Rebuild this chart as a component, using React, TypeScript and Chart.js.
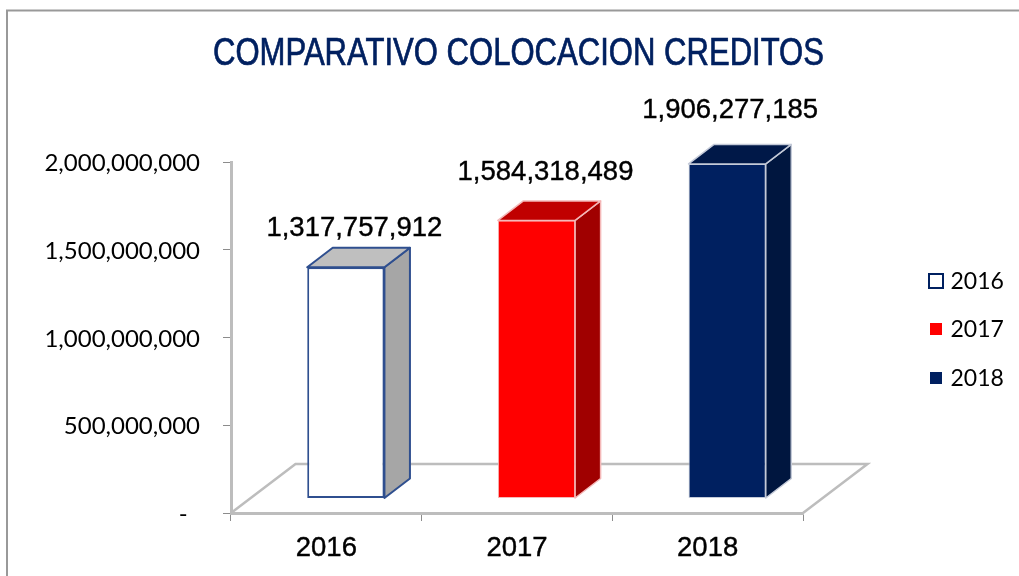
import React, { useEffect, useRef } from "react";
import { Chart, registerables } from "chart.js";

Chart.register(...registerables);

const categories = ["2016", "2017", "2018"];
const values2016 = [1317757912, null, null];
const values2017 = [null, 1584318489, null];
const values2018 = [null, null, 1906277185];
const yTicks = [0, 500000000, 1000000000, 1500000000, 2000000000];
const titleText = "COMPARATIVO COLOCACION CREDITOS";

const NAVY = "#002060";
const AXIS = "#bdbdbd";
const SHIFT = { x: 19.5, y: -14.5 };
const DEPTH = { x: 25.5, y: -19.5 };
const LABEL_OFFSET = [
  { x: 28, y: -53.5 },
  { x: 28.5, y: -63 },
  { x: 22.5, y: -68 },
];
const FACES = [
  { top: "#bfbfbf", side: "#a6a6a6", edge: "#2f4f8f", edgeWidth: 2 },
  { top: "#c00000", side: "#a00000", edge: "#f4b8b8", edgeWidth: 1.5 },
  { top: "#001848", side: "#00163f", edge: "#c4cad8", edgeWidth: 1.5 },
];
const LEGEND_Y = [281, 329, 378];

const fmt = (n: number) => n.toLocaleString("en-US");

const poly = (ctx: CanvasRenderingContext2D, pts: number[][], fill: string, f: any) => {
  ctx.beginPath();
  pts.forEach((p, i) => (i ? ctx.lineTo(p[0], p[1]) : ctx.moveTo(p[0], p[1])));
  ctx.closePath();
  ctx.fillStyle = fill;
  ctx.fill();
  ctx.strokeStyle = f.edge;
  ctx.lineWidth = f.edgeWidth;
  ctx.lineJoin = "round";
  ctx.stroke();
};

const chart3d = {
  id: "chart3d",
  beforeDraw(chart: any) {
    const { ctx, width, height } = chart;
    ctx.save();
    ctx.fillStyle = "#ffffff";
    ctx.fillRect(0, 0, width, height);
    ctx.strokeStyle = "#999999";
    ctx.lineWidth = 2;
    ctx.beginPath();
    ctx.moveTo(7, height);
    ctx.lineTo(7, 10.5);
    ctx.lineTo(width, 10.5);
    ctx.stroke();
    ctx.restore();
  },
  beforeDatasetsDraw(chart: any) {
    const { ctx } = chart;
    const x = chart.scales.x;
    const y = chart.scales.y;
    const l = x.left;
    const r = x.right;
    const b = y.bottom;
    const ddx = 64.5;
    const ddy = -49;
    ctx.save();
    ctx.strokeStyle = AXIS;
    ctx.lineWidth = 2.5;
    ctx.beginPath();
    ctx.moveTo(l, b);
    ctx.lineTo(l + ddx, b + ddy);
    ctx.lineTo(r + ddx, b + ddy);
    ctx.lineTo(r, b);
    ctx.stroke();
    ctx.restore();
  },
  beforeDatasetDraw(chart: any, args: any) {
    const { ctx } = chart;
    const f = FACES[args.index];
    ctx.save();
    ctx.translate(SHIFT.x, SHIFT.y);
    args.meta.data.forEach((el: any, i: number) => {
      if (chart.data.datasets[args.index].data[i] == null) return;
      const { x, y, base, width } = el.getProps(["x", "y", "base", "width"], true);
      const L = x - width / 2;
      const R = x + width / 2;
      poly(ctx, [[R, y], [R + DEPTH.x, y + DEPTH.y], [R + DEPTH.x, base + DEPTH.y], [R, base]], f.side, f);
      poly(ctx, [[L, y], [L + DEPTH.x, y + DEPTH.y], [R + DEPTH.x, y + DEPTH.y], [R, y]], f.top, f);
    });
  },
  afterDatasetDraw(chart: any) {
    chart.ctx.restore();
  },
  afterDraw(chart: any) {
    const { ctx } = chart;
    ctx.save();
    ctx.textBaseline = "middle";

    ctx.fillStyle = NAVY;
    ctx.strokeStyle = NAVY;
    ctx.lineWidth = 0.7;
    ctx.textAlign = "center";
    ctx.font = "38px 'Liberation Sans'";
    ctx.fillText(titleText, 518.5, 55, 611);
    ctx.strokeText(titleText, 518.5, 55, 611);

    ctx.fillStyle = "#000000";
    ctx.strokeStyle = "#000000";
    ctx.lineWidth = 0.4;
    ctx.font = "27.5px 'Liberation Sans'";
    chart.data.datasets.forEach((ds: any, di: number) => {
      const meta = chart.getDatasetMeta(di);
      ds.data.forEach((v: number | null, i: number) => {
        if (v == null) return;
        const el = meta.data[i];
        const px = el.x + LABEL_OFFSET[di].x;
        const py = el.y + LABEL_OFFSET[di].y;
        ctx.fillText(fmt(v), px, py);
        ctx.strokeText(fmt(v), px, py);
      });
    });

    ctx.textAlign = "left";
    ctx.font = "23px Lato";
    chart.data.datasets.forEach((ds: any, di: number) => {
      const cy = LEGEND_Y[di];
      ctx.fillStyle = ds.backgroundColor;
      ctx.fillRect(929, cy - 7, 14, 14);
      ctx.strokeStyle = di === 0 ? NAVY : "#ffffff";
      ctx.lineWidth = 2;
      ctx.strokeRect(929, cy - 7, 14, 14);
      ctx.fillStyle = "#000000";
      ctx.fillText(ds.label, 950.5, cy + 1);
    });
    ctx.restore();
  },
};

export default function App() {
  const ref = useRef<HTMLCanvasElement | null>(null);
  useEffect(() => {
    const chart = new Chart(ref.current as HTMLCanvasElement, {
      type: "bar",
      data: {
        labels: categories,
        datasets: [
          { label: "2016", data: values2016, backgroundColor: "#ffffff", borderColor: FACES[0].edge, borderWidth: 2, borderSkipped: false, clip: false },
          { label: "2017", data: values2017, backgroundColor: "#ff0000", borderColor: FACES[1].edge, borderWidth: 1, borderSkipped: false, clip: false },
          { label: "2018", data: values2018, backgroundColor: NAVY, borderColor: FACES[2].edge, borderWidth: 1, borderSkipped: false, clip: false },
        ] as any,
      },
      options: {
        responsive: false,
        animation: false,
        layout: { padding: { left: 0, right: 216, top: 162, bottom: 0 } },
        datasets: { bar: { barPercentage: 0.405, categoryPercentage: 1 } },
        plugins: {
          legend: { display: false },
          tooltip: { enabled: false },
          title: { display: false },
        },
        scales: {
          x: {
            stacked: true,
            afterFit(s: any) { s.height = 63; },
            grid: { drawOnChartArea: false, drawTicks: true, tickLength: 8, color: "#8c8c8c", lineWidth: 1 },
            border: { color: AXIS, width: 3 },
            ticks: { color: "#000000", padding: 11, maxRotation: 0, textStrokeColor: "#000000", textStrokeWidth: 0.4, font: { family: "'Liberation Sans'", size: 27.5 } },
          },
          y: {
            stacked: true,
            min: 0,
            max: 2000000000,
            afterFit(s: any) { s.width = 231; },
            afterBuildTicks(s: any) { s.ticks = yTicks.map((value) => ({ value })); },
            grid: { drawOnChartArea: false, drawTicks: true, tickLength: 8, color: "#8c8c8c", lineWidth: 1 },
            border: { color: AXIS, width: 3 },
            ticks: {
              color: "#000000",
              padding: 23,
              labelOffset: 1.5,
              font: { family: "Lato", size: 24 },
              callback: (v: any) => (Number(v) === 0 ? "-  " : fmt(Number(v))),
            },
          },
        },
      } as any,
      plugins: [chart3d],
    });
    return () => chart.destroy();
  }, []);
  return (
    <div style={{ position: "fixed", left: 0, top: 0, width: 1019, height: 576, background: "#fff" }}>
      <canvas ref={ref} width={1019} height={576} style={{ display: "block", filter: "blur(0.4px)" }} />
    </div>
  );
}
